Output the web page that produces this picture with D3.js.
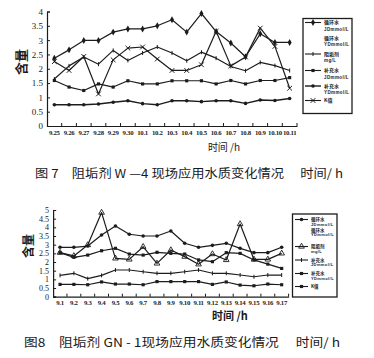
<!DOCTYPE html>
<html><head><meta charset="utf-8">
<script src="https://cdn.jsdelivr.net/npm/d3@7"></script>
<style>
html,body{margin:0;padding:0;background:#fff;}
svg{display:block;}
text{fill:#1a1a1a;}
</style>
</head><body>
<svg id="c" width="374" height="358"></svg>
<script>
// ---- Chart 1 (图7) data ----
const dates1 = ["9.25","9.26","9.27","9.28","9.29","9.30","10.1","10.2","10.3","10.4","10.5","10.6","10.7","10.8","10.9","10.10","10.11"];
const c1CirJD  = [2.37,2.66,2.99,2.99,3.28,3.39,3.39,3.50,3.71,3.28,3.93,3.30,2.90,2.42,3.22,2.92,2.92];
const c1Agent  = [1.64,2.10,2.41,2.16,2.64,2.29,2.55,2.76,2.55,2.28,2.58,2.37,2.08,1.93,2.22,2.11,1.94];
const c1SupJD  = [1.59,1.36,1.24,1.47,1.36,1.58,1.47,1.47,1.58,1.58,1.58,1.47,1.59,1.47,1.59,1.59,1.69];
const c1SupYD  = [0.74,0.74,0.74,0.77,0.83,0.88,0.78,0.74,0.88,0.88,0.85,0.88,0.88,0.79,0.91,0.89,0.96];
const c1K      = [2.25,1.94,2.43,1.12,2.31,2.72,2.76,2.34,1.94,1.94,2.14,3.31,2.10,2.41,3.42,2.78,1.32];
const yTicks1 = [0,0.5,1,1.5,2,2.5,3,3.5,4];

// ---- Chart 2 (图8) data ----
const dates2 = ["9.1","9.2","9.3","9.4","9.5","9.6","9.7","9.8","9.9","9.10","9.11","9.12","9.13","9.14","9.15","9.16","9.17"];
const c2CirJD  = [2.85,2.85,2.92,3.56,4.08,3.60,3.50,3.50,3.79,3.08,2.85,2.96,3.08,2.79,2.54,2.54,2.85];
const c2Agent  = [2.54,2.35,2.98,4.85,2.21,2.15,2.88,1.92,2.69,2.31,1.87,2.46,2.12,4.19,2.15,2.15,2.50];
const c2K      = [2.54,2.27,2.40,2.65,2.79,2.46,2.40,2.56,2.50,2.46,2.12,2.02,2.54,2.50,2.12,1.88,1.63];
const c2SupJD  = [1.23,1.35,1.04,1.23,1.54,1.54,1.44,1.35,1.35,1.44,1.54,1.35,1.35,1.25,1.15,1.25,1.25];
const c2SupYD  = [0.71,0.71,0.69,0.85,0.73,0.73,0.69,0.87,0.87,0.87,0.87,0.71,0.85,0.67,0.63,0.73,0.69];
const yTicks2 = [0,0.5,1,1.5,2,2.5,3,3.5,4,4.5,5];

const legendNames = [["循环水","JDmmol/L"],["循环水","YDmmol/L"],["阻垢剂","mg/L"],["补充水","JDmmol/L"],["补充水","YDmmol/L"],["K值",""]];

const svg = d3.select("#c");
const INK = "#1c1c1c";
const symTimes = d3.symbolTimes || d3.symbolX;

function marker(g, type, x, y) {
  if (type === "dot") {
    g.append("circle").attr("cx", x).attr("cy", y).attr("r", 1.8).attr("fill", INK);
  } else if (type === "diamond") {
    g.append("path").attr("d", d3.symbol(d3.symbolDiamond, 14)()).attr("transform", `translate(${x},${y})`).attr("fill", INK);
  } else if (type === "square") {
    g.append("path").attr("d", d3.symbol(d3.symbolSquare, 10)()).attr("transform", `translate(${x},${y})`).attr("fill", INK);
  } else if (type === "tick") {
    g.append("line").attr("x1", x).attr("x2", x).attr("y1", y - 2).attr("y2", y + 2).attr("stroke", INK).attr("stroke-width", 1);
  } else if (type === "times") {
    g.append("path").attr("d", d3.symbol(symTimes, 16)()).attr("transform", `translate(${x},${y})`).attr("fill", "none").attr("stroke", INK).attr("stroke-width", 1);
  } else if (type === "tri") {
    g.append("path").attr("d", d3.symbol(d3.symbolTriangle, 14)()).attr("transform", `translate(${x},${y})`).attr("fill", "none").attr("stroke", INK).attr("stroke-width", 0.9);
  }
}

function drawChart(o) {
  const g = svg.append("g");
  const x = d3.scaleBand().domain(o.dates).range([o.x0, o.x1]).padding(0);
  const y = d3.scaleLinear().domain([0, o.ymax]).range([o.y0, o.y1]);
  const cx = d => x(d) + x.bandwidth() / 2;

  // y axis
  const ya = g.append("g").attr("transform", `translate(${o.x0},0)`)
    .call(d3.axisLeft(y).tickValues(o.yTicks).tickSize(-3).tickPadding(4).tickFormat(d => String(d)));
  ya.select(".domain").attr("stroke", INK).attr("stroke-width", 1.2);
  ya.selectAll(".tick line").attr("stroke", INK).attr("stroke-width", 1);
  ya.selectAll("text").attr("font-family", "Liberation Serif").attr("font-size", o.yFont).attr("fill", INK);

  // x axis
  const xa = g.append("g").attr("transform", `translate(0,${o.y0})`)
    .call(d3.axisBottom(x).tickSize(0).tickPadding(o.xPad));
  xa.select(".domain").attr("stroke", INK).attr("stroke-width", 1.2);
  xa.selectAll("text").attr("font-family", "Liberation Serif").attr("font-weight", "bold")
    .attr("font-size", o.xFont).attr("fill", INK).attr("letter-spacing", "-0.3");
  // boundary ticks
  g.selectAll(".bt").data(o.dates.slice(1).concat(["__end"])).enter().append("line")
    .attr("x1", d => d === "__end" ? o.x1 : x(d)).attr("x2", d => d === "__end" ? o.x1 : x(d))
    .attr("y1", o.y0).attr("y2", o.y0 - 3).attr("stroke", INK).attr("stroke-width", 1);

  const line = d3.line().x((d, i) => cx(o.dates[i])).y(d => y(d));
  o.series.forEach(s => {
    g.append("path").datum(s.values).attr("d", line).attr("fill", "none")
      .attr("stroke", INK).attr("stroke-width", s.w || 1.2).attr("stroke-linejoin", "round");
    s.values.forEach((v, i) => marker(g, s.mk, cx(o.dates[i]), y(v)));
  });

  // axis titles
  g.append("text").attr("transform", `translate(${o.ylx},${o.yly}) rotate(-90)`)
    .attr("text-anchor", "middle").attr("dominant-baseline", "central")
    .attr("font-family", "Noto Sans CJK SC").attr("font-weight", "bold").attr("font-size", o.ylFont).text("含量");
  g.append("text").attr("x", o.xtx).attr("y", o.xty).attr("text-anchor", "middle")
    .attr("font-family", "Noto Sans CJK SC").attr("font-size", o.xtFont).attr("font-weight", o.xtWeight).text("时间 /h");

  // legend
  const L = o.leg;
  g.append("rect").attr("x", L.x).attr("y", L.y).attr("width", L.w).attr("height", L.h)
    .attr("fill", "#fff").attr("stroke", INK).attr("stroke-width", 1.3);
  legendNames.forEach((nm, i) => {
    const ly = L.ys[i];
    const s = o.series.find(q => q.leg === i);
    if (s) {
      g.append("line").attr("x1", L.lx0).attr("x2", L.lx1).attr("y1", ly).attr("y2", ly)
        .attr("stroke", INK).attr("stroke-width", s.w || 1.1);
      marker(g, s.mk, (L.lx0 + L.lx1) / 2, ly);
    }
    g.append("text").attr("x", L.tx).attr("y", ly + 1.8).attr("font-family", "Noto Sans CJK SC")
      .attr("font-weight", "bold").attr("font-size", L.fs).text(nm[0]);
    if (nm[1]) g.append("text").attr("x", L.tx).attr("y", ly + 1.8 + L.dy).attr("font-family", "Liberation Sans")
      .attr("font-weight", "bold").attr("font-size", L.fs - 0.5).attr("letter-spacing", "0.4").text(nm[1]);
  });

  // caption
  g.append("text").attr("x", o.capx).attr("y", o.capy).attr("font-family", "Noto Sans CJK SC")
    .attr("font-size", 12).attr("textLength", o.capw).attr("lengthAdjust", "spacingAndGlyphs").text(o.caption);
}

drawChart({
  dates: dates1, x0: 47, x1: 297, y0: 126, y1: 11.5, ymax: 4, yTicks: yTicks1,
  yFont: 9, xFont: 6.8, xPad: 4,
  series: [
    {values: c1CirJD, mk: "diamond", leg: 0},
    {values: c1K, mk: "times", leg: 5},
    {values: c1Agent, mk: "tick", leg: 2},
    {values: c1SupJD, mk: "square", leg: 3},
    {values: c1SupYD, mk: "dot", leg: 4, w: 1.4}
  ],
  ylx: 20, yly: 62, ylFont: 13,
  xtx: 224, xty: 151, xtFont: 10, xtWeight: "normal",
  leg: {x: 303, y: 18.5, w: 49, h: 95, lx0: 305, lx1: 321, tx: 324,
        ys: [22.5, 38, 54, 70.5, 86, 100.5], dy: 6.3, fs: 5},
  capx: 35, capy: 178, capw: 308, caption: "图 7　阻垢剂 W —4 现场应用水质变化情况　 时间/ h"
});

drawChart({
  dates: dates2, x0: 53.1, x1: 288.6, y0: 296.7, y1: 210, ymax: 5, yTicks: yTicks2,
  yFont: 8, xFont: 6.8, xPad: 3.5,
  series: [
    {values: c2CirJD, mk: "dot", leg: 0},
    {values: c2Agent, mk: "tri", leg: 2},
    {values: c2K, mk: "square", leg: 5},
    {values: c2SupJD, mk: "tick", leg: 3},
    {values: c2SupYD, mk: "square", leg: 4}
  ],
  ylx: 27, yly: 246, ylFont: 12,
  xtx: 230, xty: 320, xtFont: 11, xtWeight: "bold",
  leg: {x: 292.5, y: 214, w: 44.5, h: 83, lx0: 295, lx1: 308, tx: 311,
        ys: [219.5, 230, 246.5, 260, 273.5, 286.5], dy: 4.6, fs: 4.5},
  capx: 24, capy: 347, capw: 316, caption: "图8　阻垢剂 GN - 1现场应用水质变化情况　 时间/ h"
});
</script>
</body></html>
